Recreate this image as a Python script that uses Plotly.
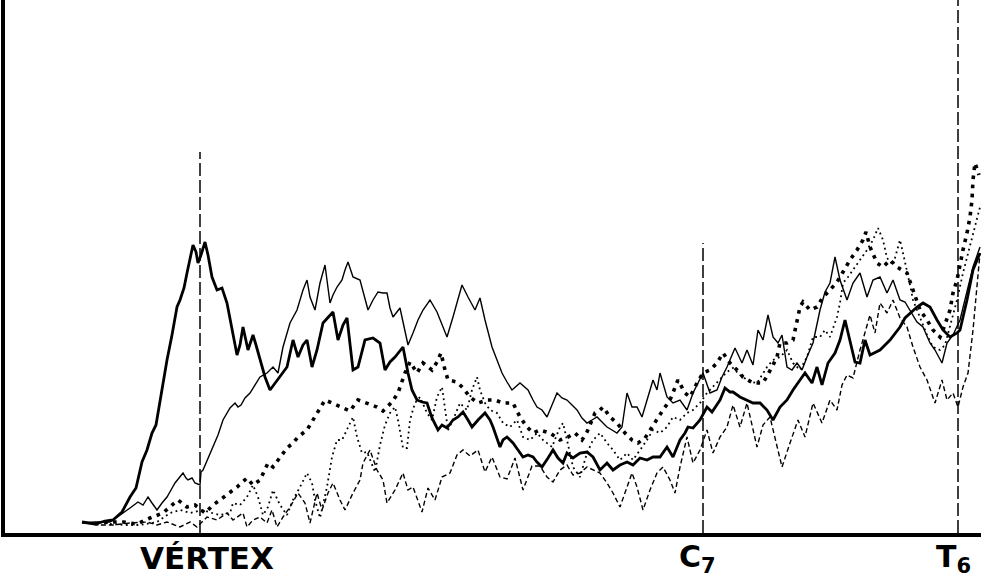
import plotly.graph_objects as go

# Densitometric profiles along the spine (position vs. relative intensity)
pos_a = [82, 95, 105, 113, 122, 130, 136, 142, 147, 152, 156, 160, 164, 167, 172, 177, 180, 184, 187, 190,
         193, 196, 198, 201, 205, 208, 212, 217, 222, 227, 232, 237, 240, 243, 248, 253, 256, 260, 265, 270,
         275, 280, 287, 293, 298, 303, 307, 312, 317, 323, 330, 333, 338, 343, 347, 353, 358, 365, 373, 380,
         385, 390, 395, 403, 408, 412, 417, 422, 427, 432, 438, 442, 447, 453, 458, 463, 468, 472, 478, 485,
         490, 493, 500, 503, 507, 513, 518, 523, 528, 533, 537, 542, 548, 553, 558, 563, 567, 573, 580, 587,
         593, 600, 607, 613, 620, 627, 633, 640, 647, 653, 660, 667, 673, 680, 685, 688, 693, 700, 707, 712,
         720, 725, 730, 733, 740, 747, 753, 760, 767, 773, 780, 787, 793, 800, 805, 812, 817, 822, 828, 835,
         840, 845, 850, 855, 860, 865, 870, 880, 890, 900, 905, 910, 917, 923, 930, 937, 943, 950, 957, 960,
         967, 973, 980]
val_a = [11, 9, 12, 13, 21, 36, 45, 71, 83, 100, 108, 133, 155, 173, 198, 226, 233, 245, 260, 275,
         288, 281, 270, 278, 291, 278, 256, 243, 245, 230, 203, 178, 188, 206, 183, 198, 188, 173, 156, 143,
         150, 156, 166, 193, 176, 188, 193, 166, 183, 210, 218, 221, 193, 208, 215, 163, 166, 193, 195, 190,
         163, 171, 176, 186, 160, 143, 133, 131, 130, 115, 103, 108, 105, 113, 116, 121, 113, 106, 113, 120,
         113, 106, 86, 93, 96, 90, 83, 76, 78, 76, 71, 66, 75, 83, 75, 70, 80, 75, 80, 81,
         76, 63, 70, 63, 68, 71, 68, 75, 73, 76, 76, 86, 76, 93, 100, 106, 105, 113, 126, 121,
         133, 145, 141, 141, 136, 133, 130, 130, 123, 113, 126, 133, 143, 153, 160, 150, 166, 148, 170, 180,
         193, 213, 193, 171, 170, 193, 178, 183, 193, 206, 215, 220, 226, 230, 226, 213, 203, 196, 200, 203,
         233, 263, 280]

pos_b = [82, 95, 110, 118, 123, 130, 138, 143, 148, 152, 157, 162, 167, 171, 175, 179, 183, 186, 188, 192,
         195, 200, 201, 203, 208, 213, 218, 223, 227, 230, 235, 238, 241, 245, 250, 255, 260, 267, 273, 278,
         283, 290, 297, 303, 307, 310, 315, 320, 325, 330, 333, 337, 342, 345, 348, 353, 360, 364, 368, 373,
         378, 383, 387, 390, 393, 400, 404, 408, 413, 418, 423, 430, 437, 442, 447, 453, 458, 462, 468, 475,
         480, 485, 492, 497, 502, 507, 512, 520, 528, 533, 537, 542, 547, 552, 557, 562, 567, 572, 577, 582,
         587, 592, 597, 602, 607, 612, 617, 622, 627, 632, 637, 642, 648, 653, 657, 660, 667, 673, 680, 687,
         693, 700, 703, 710, 717, 722, 727, 735, 742, 747, 753, 758, 763, 768, 773, 778, 782, 787, 792, 797,
         802, 807, 813, 820, 825, 830, 835, 840, 847, 853, 860, 867, 873, 880, 887, 893, 900, 905, 910, 917,
         923, 930, 935, 942, 947, 953, 960, 967, 973, 980]
val_b = [10, 11, 11, 16, 20, 25, 31, 28, 36, 30, 23, 30, 36, 43, 50, 55, 60, 55, 53, 55,
         50, 48, 61, 63, 75, 86, 98, 113, 120, 125, 130, 126, 128, 135, 140, 148, 156, 160, 166, 160,
         186, 210, 223, 243, 253, 236, 223, 250, 268, 230, 238, 246, 253, 263, 271, 256, 253, 238, 223, 233,
         241, 240, 240, 225, 216, 225, 208, 188, 200, 213, 223, 233, 221, 208, 196, 216, 235, 248, 236, 223,
         235, 213, 186, 173, 160, 151, 143, 150, 143, 133, 126, 123, 116, 128, 140, 135, 133, 128, 123, 115,
         110, 113, 116, 111, 106, 103, 100, 106, 140, 126, 126, 116, 136, 153, 143, 160, 136, 130, 133, 123,
         140, 153, 160, 140, 143, 156, 166, 185, 170, 183, 168, 203, 193, 218, 196, 190, 198, 166, 163, 170,
         163, 176, 190, 223, 241, 250, 276, 253, 233, 250, 260, 236, 253, 256, 240, 253, 233, 231, 223, 211,
         206, 190, 183, 170, 190, 198, 213, 243, 266, 286]

pos_c = [95, 110, 123, 137, 150, 163, 172, 178, 187, 195, 205, 213, 220, 227, 237, 247, 253, 260, 265, 268,
         273, 280, 287, 293, 298, 307, 313, 318, 325, 332, 340, 350, 358, 367, 377, 383, 392, 398, 405, 410,
         417, 423, 432, 437, 441, 445, 448, 457, 463, 470, 478, 487, 495, 503, 513, 520, 527, 533, 540, 550,
         560, 568, 575, 582, 587, 595, 600, 603, 610, 617, 625, 632, 638, 645, 650, 657, 663, 670, 675, 678,
         685, 690, 697, 703, 710, 717, 723, 730, 737, 743, 753, 763, 772, 777, 780, 787, 793, 797, 800, 803,
         810, 817, 823, 830, 837, 843, 850, 857, 863, 866, 870, 877, 883, 890, 897, 907, 912, 917, 920, 927,
         933, 940, 943, 950, 953, 957, 960, 963, 967, 970, 972, 973, 975, 977, 979]
val_c = [9, 11, 11, 9, 15, 20, 28, 33, 26, 28, 20, 28, 33, 38, 46, 55, 48, 53, 63, 70,
         66, 75, 85, 90, 96, 103, 113, 123, 133, 130, 126, 122, 133, 130, 126, 122, 131, 140, 160, 171,
         160, 170, 163, 171, 180, 163, 153, 151, 145, 136, 130, 133, 133, 130, 130, 116, 106, 100, 103, 100,
         93, 96, 100, 93, 101, 120, 123, 126, 116, 110, 100, 93, 90, 95, 103, 113, 123, 133, 146, 153,
         140, 136, 150, 160, 163, 170, 180, 170, 163, 156, 150, 150, 166, 176, 190, 190, 193, 210, 226, 231,
         223, 226, 236, 243, 251, 261, 273, 283, 293, 301, 286, 270, 266, 273, 266, 260, 246, 233, 223, 213,
         203, 196, 203, 223, 240, 253, 270, 283, 300, 316, 333, 353, 370, 363, 358]

pos_d = [110, 125, 140, 157, 170, 180, 190, 203, 212, 220, 230, 233, 240, 247, 253, 258, 263, 268, 273, 280,
         287, 293, 300, 307, 312, 315, 320, 327, 332, 337, 342, 348, 353, 357, 362, 367, 372, 375, 380, 385,
         390, 395, 398, 403, 407, 410, 415, 420, 427, 432, 437, 442, 448, 453, 460, 467, 472, 477, 480, 485,
         490, 497, 503, 510, 517, 523, 530, 537, 543, 552, 560, 563, 567, 573, 580, 587, 593, 600, 607, 613,
         620, 627, 633, 640, 647, 653, 660, 667, 673, 680, 687, 693, 700, 707, 713, 720, 727, 733, 740, 750,
         757, 767, 773, 780, 787, 793, 800, 807, 813, 820, 825, 830, 837, 840, 843, 848, 853, 860, 867, 873,
         878, 883, 887, 893, 900, 903, 907, 910, 913, 920, 927, 933, 940, 945, 950, 957, 963, 970, 977, 980]
val_d = [9, 8, 8, 11, 20, 23, 20, 23, 20, 18, 20, 30, 28, 36, 48, 36, 18, 26, 43, 28,
         18, 33, 46, 60, 50, 33, 15, 46, 76, 93, 93, 106, 116, 96, 80, 81, 68, 61, 88, 108,
         120, 126, 113, 85, 85, 113, 130, 136, 120, 113, 136, 146, 103, 113, 130, 123, 143, 156, 143, 130,
         123, 120, 110, 106, 113, 96, 93, 100, 93, 86, 106, 110, 93, 66, 56, 80, 93, 100, 90, 83,
         73, 80, 73, 83, 93, 103, 100, 106, 116, 113, 120, 123, 130, 140, 146, 153, 161, 165, 158, 151,
         150, 166, 173, 176, 183, 170, 163, 176, 196, 196, 203, 196, 216, 230, 250, 256, 263, 273, 283, 293,
         305, 293, 275, 268, 293, 280, 263, 248, 233, 216, 198, 186, 183, 188, 206, 233, 260, 286, 313, 326]

pos_e = [85, 100, 113, 130, 147, 157, 167, 180, 190, 197, 207, 217, 227, 233, 243, 247, 253, 260, 267, 272,
         277, 283, 290, 298, 305, 310, 317, 322, 328, 333, 340, 345, 353, 360, 363, 370, 377, 383, 387, 395,
         403, 408, 413, 422, 428, 435, 442, 450, 457, 463, 470, 478, 485, 492, 500, 507, 515, 523, 532, 540,
         547, 553, 560, 567, 573, 580, 587, 593, 600, 607, 613, 620, 627, 632, 637, 643, 650, 657, 663, 670,
         675, 680, 687, 693, 700, 707, 713, 720, 727, 733, 740, 747, 757, 763, 770, 782, 790, 798, 805, 813,
         822, 830, 837, 842, 847, 853, 860, 865, 870, 875, 880, 887, 893, 900, 907, 913, 920, 927, 935, 942,
         947, 953, 958, 963, 968, 973, 978, 980]
val_e = [10, 8, 8, 10, 11, 8, 11, 6, 11, 6, 16, 13, 20, 13, 20, 6, 13, 16, 10, 23,
         6, 16, 26, 40, 30, 10, 40, 23, 40, 50, 33, 23, 40, 53, 70, 83, 63, 53, 30, 43,
         60, 43, 46, 21, 45, 33, 56, 60, 78, 83, 77, 83, 61, 76, 56, 54, 75, 43, 67, 67,
         56, 51, 63, 68, 58, 60, 66, 63, 60, 50, 40, 26, 46, 60, 46, 23, 43, 60, 66, 53,
         40, 66, 96, 70, 83, 103, 80, 96, 106, 128, 106, 130, 86, 108, 116, 66, 90, 113, 96, 130,
         110, 133, 123, 148, 158, 155, 183, 200, 218, 200, 230, 220, 233, 215, 206, 186, 166, 153, 130, 153,
         133, 140, 126, 146, 160, 203, 260, 280]

# Anatomical landmarks: position, top of the marker line, label
landmark_pos = [200, 703, 958]
landmark_top = [381, 290, 533]
landmark_label = ["VÉRTEX", "C<sub>7</sub>", "T<sub>6</sub>"]
label_pos = [207, 697, 953]
label_size = [31, 30, 30]

fig = go.Figure()

for p, top in zip(landmark_pos, landmark_top):
    fig.add_trace(go.Scatter(x=[p, p], y=[0, top], mode="lines",
                             line=dict(color="black", width=1.5, dash="13px,4px"),
                             hoverinfo="skip", showlegend=False))

series = [
    (pos_e, val_e, dict(color="black", width=1.4, dash="5px,3px")),
    (pos_d, val_d, dict(color="black", width=1.8, dash="1.8px,3.5px")),
    (pos_c, val_c, dict(color="black", width=3.6, dash="3.6px,5.5px")),
    (pos_b, val_b, dict(color="black", width=1.4)),
    (pos_a, val_a, dict(color="black", width=2.8)),
]
for xs, ys, ln in series:
    fig.add_trace(go.Scatter(x=xs, y=ys, mode="lines", line=ln, showlegend=False))

annotations = []
for lp, txt, sz in zip(label_pos, landmark_label, label_size):
    annotations.append(dict(x=lp, y=-0.047, xref="x", yref="paper", text=txt,
                            showarrow=False, xanchor="center", yanchor="middle",
                            font=dict(family="DejaVu Sans", size=sz, color="black", weight="bold")))

fig.update_layout(
    width=985, height=585,
    margin=dict(l=5, r=4, t=0, b=52),
    paper_bgcolor="white", plot_bgcolor="white",
    annotations=annotations,
    xaxis=dict(range=[5, 981], showgrid=False, zeroline=False, showticklabels=False, ticks="",
               showline=True, linecolor="black", linewidth=3.5),
    yaxis=dict(range=[0, 533], showgrid=False, zeroline=False, showticklabels=False, ticks="",
               showline=True, linecolor="black", linewidth=3.5),
)

fig.write_html("out.html")
